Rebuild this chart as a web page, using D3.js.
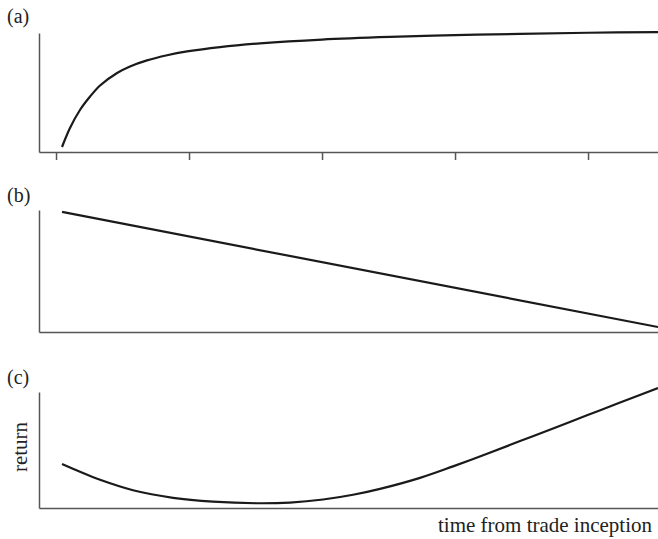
<!DOCTYPE html>
<html><head><meta charset="utf-8">
<script src="https://cdn.jsdelivr.net/npm/d3@7"></script>
<style>
html,body{margin:0;padding:0;background:#fff;}
svg{display:block;}
</style></head>
<body>
<svg id="chart" width="658" height="539"></svg>
<script>
// time axis (units of tick spacing)
const xTicks = [0, 1, 2, 3, 4];
const panelLabels = ["(a)", "(b)", "(c)"];
const yLabel = "return";
const xLabel = "time from trade inception";

// panel (a)
const timeA = [0.045,0.105,0.180,0.256,0.331,0.459,0.556,0.684,0.835,0.985,1.233,1.534,2.000,2.511,3.000,3.489,4.000,4.526];
const valA  = [0.042,0.202,0.353,0.466,0.559,0.664,0.719,0.770,0.813,0.845,0.882,0.913,0.945,0.967,0.982,0.993,1.002,1.008];
// panel (b)
const timeB = [0.045, 4.526];
const valB  = [0.984, 0.041];
// panel (c)
const timeC = [0.045,0.180,0.331,0.579,0.880,1.180,1.511,1.759,2.008,2.233,2.436,2.737,2.985,3.241,3.489,3.737,3.992,4.241,4.526];
const valC  = [0.379,0.312,0.243,0.153,0.088,0.055,0.041,0.047,0.073,0.114,0.165,0.260,0.359,0.467,0.577,0.686,0.799,0.909,1.034];

const FONT = "'Liberation Serif','Times New Roman',Times,serif";
const svg = d3.select("#chart");
const x = d3.scaleLinear().domain([-0.128, 4.526]).range([39, 658]);

const panels = [
  {label: panelLabels[0], top: 33, bottom: 152, t: timeA, v: valA, ticks: xTicks, labelY: 23},
  {label: panelLabels[1], top: 210, bottom: 332, t: timeB, v: valB, ticks: [], labelY: 202},
  {label: panelLabels[2], top: 392, bottom: 508, t: timeC, v: valC, ticks: [], labelY: 384}
];

panels.forEach(p => {
  const y = d3.scaleLinear().domain([0, 1]).range([p.bottom, p.top]);
  const g = svg.append("g");

  const xa = g.append("g").attr("transform", `translate(0,${p.bottom})`)
    .call(d3.axisBottom(x).tickValues(p.ticks).tickSize(8).tickSizeOuter(0).tickFormat(""));
  const ya = g.append("g").attr("transform", `translate(${x.range()[0]},0)`)
    .call(d3.axisLeft(y).tickValues([]).tickSizeOuter(0));
  [xa, ya].forEach(a => {
    a.selectAll("path,line").attr("stroke", "#555").attr("stroke-width", 1.5);
  });

  const pts = p.t.map((t, i) => [t, p.v[i]]);
  g.append("path")
    .datum(pts)
    .attr("fill", "none")
    .attr("stroke", "#1a1a1a")
    .attr("stroke-width", 2.2)
    .attr("stroke-linejoin", "round")
    .attr("d", d3.line().x(d => x(d[0])).y(d => y(d[1])).curve(d3.curveCatmullRom.alpha(0.5)));

  g.append("text").attr("x", 7).attr("y", p.labelY)
    .attr("font-family", FONT).attr("fill", "#222")
    .attr("font-size", 20).text(p.label);
});

svg.append("text")
  .attr("transform", "translate(27,447) rotate(-90)")
  .attr("text-anchor", "middle")
  .attr("font-family", FONT).attr("fill", "#222")
  .attr("font-size", 21)
  .text(yLabel);

svg.append("text")
  .attr("x", 652).attr("y", 532)
  .attr("text-anchor", "end")
  .attr("font-family", FONT).attr("fill", "#222")
  .attr("font-size", 21)
  .text(xLabel);
</script>
</body></html>
